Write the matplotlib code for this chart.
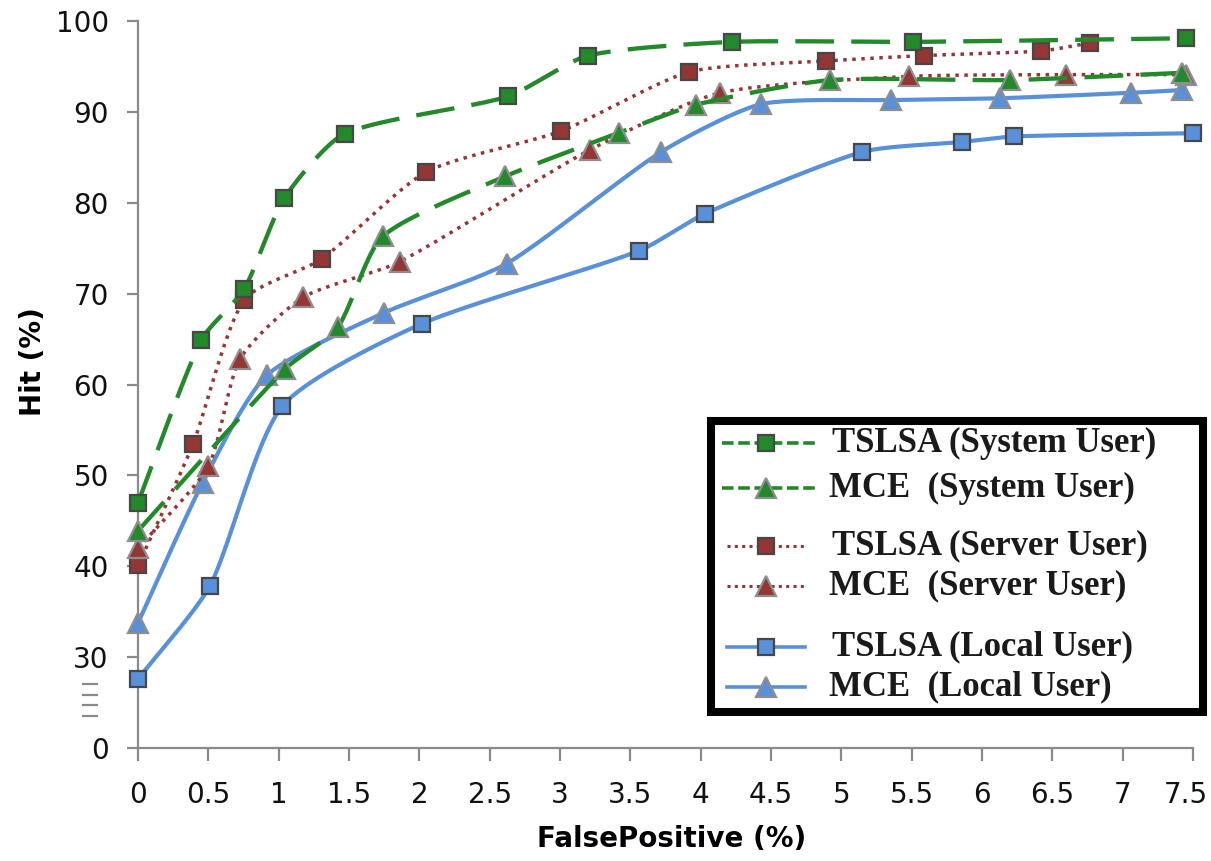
import numpy as np
import matplotlib
matplotlib.use("Agg")
import matplotlib.pyplot as plt
from matplotlib.lines import Line2D
from matplotlib.patches import Rectangle
import matplotlib.transforms as mtransforms

# ---------------- data ----------------
x_ticks = [0, 0.5, 1, 1.5, 2, 2.5, 3, 3.5, 4, 4.5, 5, 5.5, 6, 6.5, 7, 7.5]
x_tick_labels = ["0", "0.5", "1", "1.5", "2", "2.5", "3", "3.5", "4", "4.5",
                 "5", "5.5", "6", "6.5", "7", "7.5"]
y_ticks = [20, 30, 40, 50, 60, 70, 80, 90, 100]
y_tick_labels = ["0", "30", "40", "50", "60", "70", "80", "90", "100"]

tslsa_sys_x = [0, 0.45, 0.755, 1.04, 1.47, 2.63, 3.2, 4.22, 5.51, 7.45]
tslsa_sys_y = [47.0, 64.9, 70.5, 80.5, 87.6, 91.7, 96.2, 97.7, 97.7, 98.1]

mce_sys_x = [0, 1.045, 1.42, 1.74, 2.61, 3.42, 3.97, 4.92, 6.2, 7.42]
mce_sys_y = [43.9, 61.7, 66.3, 76.3, 82.9, 87.7, 90.8, 93.5, 93.5, 94.3]

tslsa_srv_x = [0, 0.39, 0.755, 1.305, 2.05, 3.01, 3.92, 4.89, 5.59, 6.42, 6.77]
tslsa_srv_y = [40.1, 53.4, 69.3, 73.8, 83.4, 87.9, 94.4, 95.6, 96.2, 96.7, 97.6]

mce_srv_x = [0, 0.5, 0.725, 1.175, 1.86, 3.21, 4.14, 5.48, 6.6, 7.45]
mce_srv_y = [42.0, 51.0, 62.8, 69.6, 73.5, 85.8, 92.1, 93.9, 94.1, 94.1]

tslsa_loc_x = [0, 0.51, 1.025, 2.02, 3.56, 4.03, 5.15, 5.86, 6.23, 7.5]
tslsa_loc_y = [27.6, 37.8, 57.6, 66.7, 74.7, 78.8, 85.6, 86.7, 87.3, 87.65]

mce_loc_x = [0, 0.46, 0.915, 1.75, 2.62, 3.72, 4.43, 5.35, 6.13, 7.06, 7.42]
mce_loc_y = [33.75, 49.2, 61.0, 67.9, 73.3, 85.6, 90.85, 91.3, 91.5, 92.1, 92.4]

labels = ["TSLSA (System User)", "MCE  (System User)",
          "TSLSA (Server User)", "MCE  (Server User)",
          "TSLSA (Local User)", "MCE  (Local User)"]

# ---------------- style ----------------
GREEN = "#23892A"
RED = "#943634"
BLUE = "#5890DA"
SQ_EDGE = "#474747"
TRI_EDGE = "#8E8E8E"
AX_GRAY = "#8A8A8A"

W, H = 1211, 861
fig = plt.figure(figsize=(W / 100, H / 100), dpi=100)
L, R, T, B = 138, 1193, 21, 748
ax = fig.add_axes([L / W, 1 - B / H, (R - L) / W, (B - T) / H])
ax.set_xlim(0, 7.5)
ax.set_ylim(20, 100)

for s in ["top", "right"]:
    ax.spines[s].set_visible(False)
for s in ["left", "bottom"]:
    ax.spines[s].set_color(AX_GRAY)
    ax.spines[s].set_linewidth(1.6)

ax.set_xticks(x_ticks)
ax.set_xticklabels(x_tick_labels)
ax.set_yticks(y_ticks)
ax.set_yticklabels(y_tick_labels)
ax.tick_params(axis="x", direction="out", length=9, width=1.6, color=AX_GRAY,
               labelsize=20, pad=15, labelcolor="#111111")
ax.tick_params(axis="y", direction="out", length=8, width=1.6, color=AX_GRAY,
               labelsize=20, pad=13, labelcolor="#111111")

# last x label sits slightly left of its tick in the reference
lastlab = ax.get_xticklabels()[-1]
lastlab.set_transform(lastlab.get_transform() +
                      mtransforms.ScaledTranslation(-0.07, 0, fig.dpi_scale_trans))

ax.set_xlabel("FalsePositive (%)", fontsize=20, fontweight="bold")
ax.xaxis.set_label_coords((672 - L) / (R - L), -(825 - B) / (B - T))
ax.set_ylabel("Hit (%)", fontsize=20, fontweight="bold")
ax.yaxis.set_label_coords(-(L - 47) / (R - L), (B - 362) / (B - T))

# axis-break marks between "0" and "30"
brk = mtransforms.blended_transform_factory(ax.transAxes, ax.transData)
for yb in [27.0, 25.8, 24.7, 23.5]:
    ax.plot([-(L - 83) / (R - L), -(L - 97) / (R - L)], [yb, yb], color=AX_GRAY,
            lw=1.6, transform=brk, clip_on=False)


def smooth(xs, ys, n=24):
    """Mildly smoothed line (clamped Bezier handles) computed in display space."""
    pts = ax.transData.transform(np.column_stack([xs, ys]))
    P = np.vstack([pts[0], pts, pts[-1]])
    out = []
    t = np.linspace(0, 1, n)[:, None]
    for i in range(1, len(P) - 2):
        p0, p1, p2, p3 = P[i - 1], P[i], P[i + 1], P[i + 2]
        seg_len = np.linalg.norm(p2 - p1)
        h1 = (p2 - p0) / 6.0
        h2 = (p3 - p1) / 6.0
        lim = 0.22 * seg_len
        for h in (h1, h2):
            n_ = np.linalg.norm(h)
            if n_ > lim and n_ > 0:
                h *= lim / n_
        c1 = p1 + h1
        c2 = p2 - h2
        seg = ((1 - t) ** 3) * p1 + 3 * ((1 - t) ** 2) * t * c1 + 3 * (1 - t) * t ** 2 * c2 + t ** 3 * p2
        out.append(seg if i == 1 else seg[1:])
    d = np.vstack(out)
    back = ax.transData.inverted().transform(d)
    return back[:, 0], back[:, 1]


series = [
    (tslsa_loc_x, tslsa_loc_y, BLUE, "-", "s", SQ_EDGE, 12, BLUE),
    (mce_loc_x, mce_loc_y, BLUE, "-", "^", TRI_EDGE, 15, BLUE),
    (tslsa_srv_x, tslsa_srv_y, RED, (0, (1, 1.6)), "s", SQ_EDGE, 12, RED),
    (mce_srv_x, mce_srv_y, RED, (0, (1, 1.6)), "^", TRI_EDGE, 15, RED),
    (mce_sys_x, mce_sys_y, GREEN, (0, (9, 4)), "^", TRI_EDGE, 15, GREEN),
    (tslsa_sys_x, tslsa_sys_y, GREEN, (0, (9, 4)), "s", SQ_EDGE, 12, GREEN),
]
lw_map = {BLUE: 3.0, RED: 2.5, GREEN: 3.1}
z = 3
for xs, ys, col, ls, mk, mec, ms, mfc in series:
    sx, sy = smooth(xs, ys)
    ax.plot(sx, sy, color=col, ls=ls, lw=lw_map[col], zorder=z, clip_on=False,
            solid_capstyle="butt", dash_capstyle="butt")
    ax.plot(xs, ys, ls="none", marker=mk, ms=ms, mfc=mfc, mec=mec, mew=1.6,
            zorder=z + 0.5, clip_on=False)
    z += 1

# ---------------- legend (drawn in figure pixel coords) ----------------
def fx(x):
    return x / W


def fy(y):
    return 1 - y / H


fig.patches.append(Rectangle((fx(711), fy(712)), fx(1203) - fx(711), fy(421) - fy(712),
                             transform=fig.transFigure, fill=False, ec="black", lw=5.8,
                             zorder=20))

leg_rows = [
    (443, GREEN, (0, (3.2, 1.3)), "s", SQ_EDGE, 12, 722, 815, 832),
    (488, GREEN, (0, (3.2, 1.3)), "^", TRI_EDGE, 15, 722, 815, 829),
    (546, RED, (0, (1, 1.4)), "s", SQ_EDGE, 12, 727, 807, 832),
    (586, RED, (0, (1, 1.4)), "^", TRI_EDGE, 15, 727, 807, 829),
    (647, BLUE, "-", "s", SQ_EDGE, 12, 727, 805, 832),
    (687, BLUE, "-", "^", TRI_EDGE, 15, 727, 805, 829),
]
for (yy, col, ls, mk, mec, ms, x0, x1, xt), lab in zip(leg_rows, labels):
    fig.lines.append(Line2D([fx(x0), fx(x1)], [fy(yy), fy(yy)], transform=fig.transFigure,
                            color=col, ls=ls, lw=2.6 if col != RED else 2.2, zorder=21))
    fig.lines.append(Line2D([fx(766)], [fy(yy)], transform=fig.transFigure, ls="none",
                            marker=mk, ms=ms, mfc=col, mec=mec, mew=1.6, zorder=22))
    fig.text(fx(xt), fy(yy), lab, fontsize=25, fontweight="bold",
             family=["Liberation Serif", "DejaVu Serif"], va="center", ha="left",
             color="#1a1a1a", zorder=22)

fig.savefig("out.png", dpi=100)
